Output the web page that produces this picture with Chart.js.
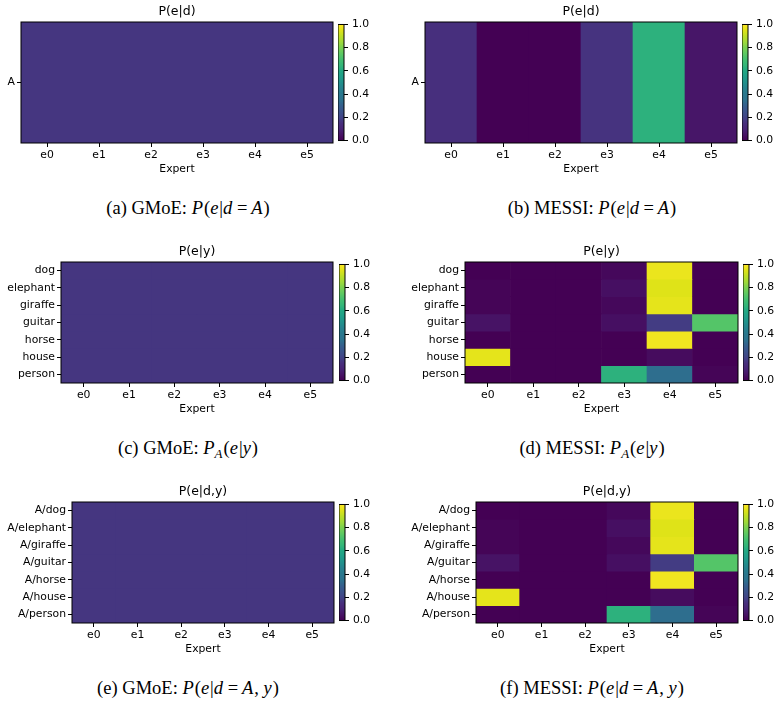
<!DOCTYPE html>
<html>
<head>
<meta charset="utf-8">
<script src="https://cdn.jsdelivr.net/npm/chart.js@4.4.1/dist/chart.umd.min.js"></script>
<style>
  html, body { margin: 0; padding: 0; background: #fff; overflow: hidden; }
  body { width: 780px; height: 704px; position: relative; }
  canvas { position: absolute; }
  .cap { position: absolute; font-family: 'Liberation Serif', 'DejaVu Serif', serif; font-size: 18.5px;
         line-height: 20px; text-align: center; color: #000; white-space: nowrap; }
  .cap sub { font-size: 13px; vertical-align: -4px; line-height: 0; }
  .cap i { padding-right: 1px; }
</style>
</head>
<body>
<div class="cap" style="left:0;width:376px;top:198px">(a) GMoE: <i>P</i>(<i>e</i>|<i>d</i>&#8201;=&#8201;<i>A</i>)</div>
<div class="cap" style="left:390px;width:404px;top:198px">(b) MESSI: <i>P</i>(<i>e</i>|<i>d</i>&#8201;=&#8201;<i>A</i>)</div>
<div class="cap" style="left:0;width:376px;top:438px">(c) GMoE: <i>P<sub>A</sub></i>(<i>e</i>|<i>y</i>)</div>
<div class="cap" style="left:390px;width:404px;top:438px">(d) MESSI: <i>P<sub>A</sub></i>(<i>e</i>|<i>y</i>)</div>
<div class="cap" style="left:0;width:376px;top:678px">(e) GMoE: <i>P</i>(<i>e</i>|<i>d</i>&#8201;=&#8201;<i>A</i>, <i>y</i>)</div>
<div class="cap" style="left:390px;width:404px;top:678px">(f) MESSI: <i>P</i>(<i>e</i>|<i>d</i>&#8201;=&#8201;<i>A</i>, <i>y</i>)</div>
<script>
const experts = ['e0', 'e1', 'e2', 'e3', 'e4', 'e5']
const domains = ['A']
const classes = ['dog', 'elephant', 'giraffe', 'guitar', 'horse', 'house', 'person']
const domainClasses = ['A/dog', 'A/elephant', 'A/giraffe', 'A/guitar', 'A/horse', 'A/house', 'A/person']
const cbarTicks = [0, 0.2, 0.4, 0.6, 0.8, 1.0]

// GMoE routes uniformly
const gmoeD = [[0.167, 0.167, 0.167, 0.167, 0.167, 0.167]]
const gmoeY = [
  [0.167, 0.167, 0.167, 0.167, 0.167, 0.167],
  [0.167, 0.167, 0.167, 0.167, 0.167, 0.167],
  [0.167, 0.167, 0.167, 0.167, 0.167, 0.167],
  [0.167, 0.167, 0.167, 0.167, 0.167, 0.167],
  [0.167, 0.167, 0.167, 0.167, 0.167, 0.167],
  [0.167, 0.167, 0.167, 0.167, 0.167, 0.167],
  [0.167, 0.167, 0.167, 0.167, 0.167, 0.167]
]
const gmoeDY = [
  [0.167, 0.167, 0.167, 0.167, 0.167, 0.167],
  [0.167, 0.167, 0.167, 0.167, 0.167, 0.167],
  [0.167, 0.167, 0.167, 0.167, 0.167, 0.167],
  [0.167, 0.167, 0.167, 0.167, 0.167, 0.167],
  [0.167, 0.167, 0.167, 0.167, 0.167, 0.167],
  [0.167, 0.167, 0.167, 0.167, 0.167, 0.167],
  [0.167, 0.167, 0.167, 0.167, 0.167, 0.167]
]
const messiD = [[0.15, 0.0, 0.0, 0.16, 0.63, 0.06]]
const messiY = [
  [0.00, 0.00, 0.00, 0.02, 0.97, 0.00],
  [0.01, 0.00, 0.00, 0.04, 0.95, 0.00],
  [0.01, 0.00, 0.00, 0.02, 0.96, 0.00],
  [0.05, 0.00, 0.00, 0.04, 0.18, 0.73],
  [0.00, 0.00, 0.00, 0.00, 0.98, 0.00],
  [0.96, 0.00, 0.00, 0.00, 0.03, 0.00],
  [0.00, 0.00, 0.00, 0.63, 0.34, 0.01]
]
const messiDY = [
  [0.00, 0.00, 0.00, 0.02, 0.97, 0.00],
  [0.01, 0.00, 0.00, 0.04, 0.95, 0.00],
  [0.01, 0.00, 0.00, 0.02, 0.96, 0.00],
  [0.05, 0.00, 0.00, 0.04, 0.18, 0.73],
  [0.00, 0.00, 0.00, 0.00, 0.98, 0.00],
  [0.96, 0.00, 0.00, 0.00, 0.03, 0.00],
  [0.00, 0.00, 0.00, 0.63, 0.34, 0.01]
]

// viridis colormap stops (every 0.05)
const VIRIDIS = ['#440154', '#471365', '#482475', '#472f7d', '#414487', '#3b528b', '#355f8d', '#2c728e',
  '#2a788e', '#26828e', '#21918c', '#1f9e89', '#22a884', '#35b779', '#44bf70', '#5ec962', '#7ad151',
  '#a0da39', '#bddf26', '#dfe318', '#fde725']

function hex2rgb(h) {
  return [parseInt(h.slice(1, 3), 16), parseInt(h.slice(3, 5), 16), parseInt(h.slice(5, 7), 16)]
}
function viridis(v) {
  v = Math.max(0, Math.min(1, v))
  const p = v * (VIRIDIS.length - 1)
  const i = Math.min(Math.floor(p), VIRIDIS.length - 2)
  const t = p - i
  const a = hex2rgb(VIRIDIS[i]), b = hex2rgb(VIRIDIS[i + 1])
  const c = a.map((x, k) => Math.round(x + (b[k] - x) * t))
  return `rgb(${c[0]},${c[1]},${c[2]})`
}

const FONT = 'DejaVu Sans'
const tickFont = { family: FONT, size: 10.8 }

const framePlugin = {
  id: 'frame',
  afterDraw(chart) {
    const { ctx, chartArea: a } = chart
    ctx.save()
    ctx.strokeStyle = '#000'
    ctx.lineWidth = 1
    ctx.strokeRect(a.left, a.top, a.right - a.left, a.bottom - a.top)
    ctx.restore()
  }
}

const gradientPlugin = {
  id: 'cbar',
  beforeDatasetsDraw(chart) {
    const { ctx, chartArea: a } = chart
    const y = chart.scales.y
    const g = ctx.createLinearGradient(0, y.getPixelForValue(0), 0, y.getPixelForValue(1))
    VIRIDIS.forEach((c, i) => g.addColorStop(i / (VIRIDIS.length - 1), c))
    ctx.save()
    ctx.fillStyle = g
    ctx.fillRect(a.left, a.top, a.right - a.left, a.bottom - a.top)
    ctx.restore()
  }
}

function addCanvas(left, top, w, h) {
  const c = document.createElement('canvas')
  c.width = w
  c.height = h
  c.style.left = left + 'px'
  c.style.top = top + 'px'
  c.style.width = w + 'px'
  c.style.height = h + 'px'
  document.body.appendChild(c)
  return c
}

const PLOT_H = 121
const TITLE_H = 22
const XAXIS_H = 40

function heatmap(plotLeft, plotTop, plotW, yw, rows, values, title) {
  const cv = addCanvas(plotLeft - yw, plotTop - TITLE_H, yw + plotW + 1, TITLE_H + PLOT_H + XAXIS_H)
  return new Chart(cv.getContext('2d'), {
    type: 'bar',
    data: {
      labels: experts,
      datasets: rows.map((r, i) => ({
        label: r,
        data: experts.map(() => 1),
        backgroundColor: values[i].map(viridis),
        borderWidth: 0,
        barPercentage: 1,
        categoryPercentage: 1
      }))
    },
    options: {
      responsive: false,
      animation: false,
      layout: { padding: { left: 0, right: 1, top: 0, bottom: 0 } },
      plugins: {
        legend: { display: false },
        tooltip: { enabled: false },
        title: {
          display: true,
          text: title,
          fullSize: false,
          color: '#000',
          font: { family: FONT, size: 12.5, weight: 'normal', lineHeight: 1.2 },
          padding: { top: 4.5, bottom: 2.5 }
        }
      },
      scales: {
        x: {
          stacked: true,
          offset: true,
          border: { display: false },
          grid: { offset: false, drawOnChartArea: false, tickLength: 4, color: '#000' },
          ticks: { color: '#000', font: tickFont, padding: 2, maxRotation: 0 },
          title: { display: true, text: 'Expert', color: '#000', font: tickFont, padding: { top: 0, bottom: 7.5 } },
          afterFit: (s) => { s.height = XAXIS_H }
        },
        y: {
          type: 'linear',
          stacked: true,
          min: 0,
          max: rows.length,
          reverse: true,
          border: { display: false },
          grid: { drawOnChartArea: false, tickLength: 4, color: '#000' },
          afterBuildTicks: (s) => { s.ticks = rows.map((_, i) => ({ value: i + 0.5 })) },
          ticks: {
            autoSkip: false,
            color: '#000',
            font: tickFont,
            padding: 2,
            callback: (v) => rows[Math.floor(v)]
          },
          afterFit: (s) => { s.width = yw }
        }
      }
    },
    plugins: [framePlugin]
  })
}

function colorbar(left, plotTop) {
  const pad = 8
  const cv = addCanvas(left, plotTop - pad, 6 + 40, PLOT_H + 2 * pad)
  return new Chart(cv.getContext('2d'), {
    type: 'bar',
    data: { labels: [''], datasets: [] },
    options: {
      responsive: false,
      animation: false,
      layout: { padding: { left: 0, right: 0, top: pad, bottom: pad } },
      plugins: { legend: { display: false }, tooltip: { enabled: false } },
      scales: {
        x: { display: false },
        y: {
          position: 'right',
          min: 0,
          max: 1,
          border: { display: false },
          grid: { drawOnChartArea: false, tickLength: 4, color: '#000' },
          afterBuildTicks: (s) => { s.ticks = cbarTicks.map(v => ({ value: v })) },
          ticks: { color: '#000', font: tickFont, padding: 4, callback: (v) => v.toFixed(1) },
          afterFit: (s) => { s.width = 40 }
        }
      }
    },
    plugins: [gradientPlugin, framePlugin]
  })
}

// row 1: P(e|d)
heatmap(21, 22, 312, 21, domains, gmoeD, 'P(e|d)')
colorbar(338, 22)
heatmap(425, 22, 312, 40, domains, messiD, 'P(e|d)')
colorbar(742, 22)

// row 2: P(e|y)
heatmap(61, 262, 272, 61, classes, gmoeY, 'P(e|y)')
colorbar(339, 262)
heatmap(465, 262, 273, 75, classes, messiY, 'P(e|y)')
colorbar(743, 262)

// row 3: P(e|d,y)
heatmap(72, 502, 262, 72, domainClasses, gmoeDY, 'P(e|d,y)')
colorbar(339, 502)
heatmap(476, 502, 262, 86, domainClasses, messiDY, 'P(e|d,y)')
colorbar(743, 502)
</script>
</body>
</html>
